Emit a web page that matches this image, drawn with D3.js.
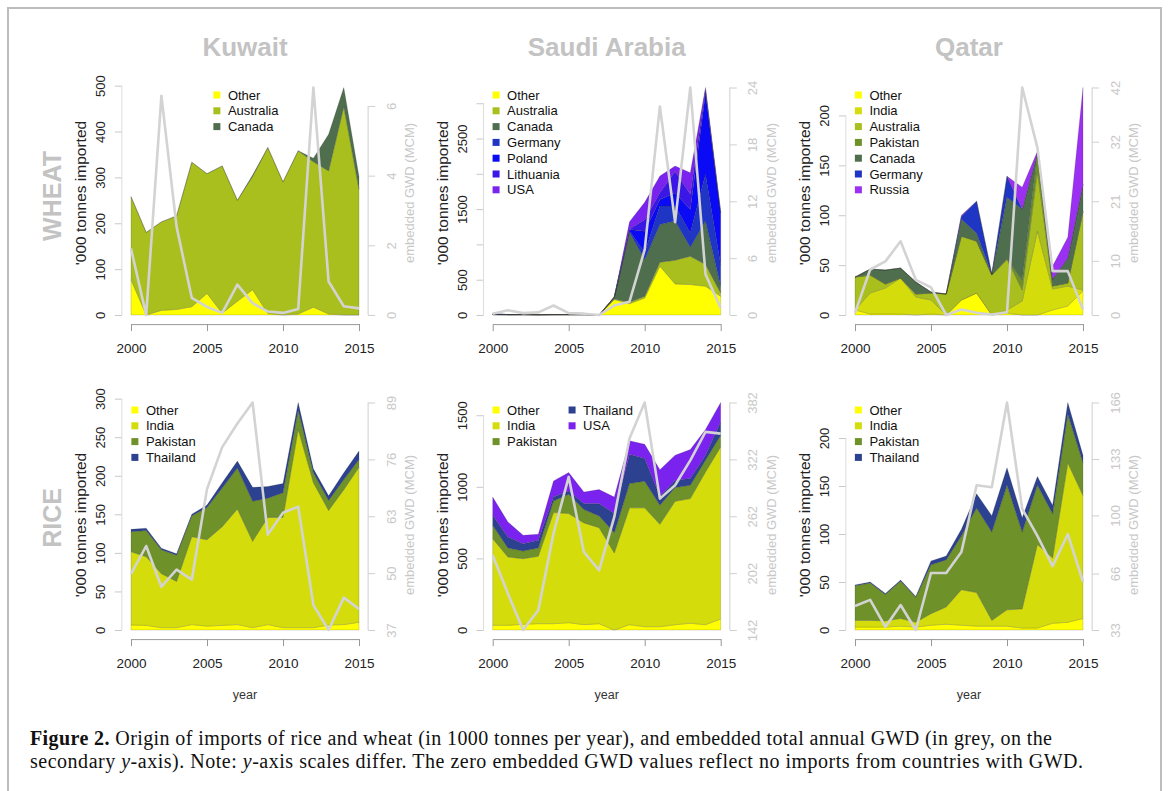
<!DOCTYPE html>
<html>
<head>
<meta charset="utf-8">
<title>Figure 2</title>
<script src="https://cdnjs.cloudflare.com/ajax/libs/d3/7.8.5/d3.min.js"></script>
<style>
  body { margin: 0; background: #fff; }
  svg text { font-family: "Liberation Sans", Arial, sans-serif; }
  svg text.caption { font-family: "Liberation Serif", "Times New Roman", serif; }
</style>
</head>
<body>
<svg id="canvas" width="1171" height="791"></svg>
<script>
// ---- data ----
var years = [2000, 2001, 2002, 2003, 2004, 2005, 2006, 2007, 2008, 2009, 2010, 2011, 2012, 2013, 2014, 2015];
var xTicks = [2000, 2005, 2010, 2015];

// Kuwait, wheat ('000 t)
var kwWheatOther     = [77, 0, 10, 12, 18, 47, 4, 30, 55, 3, 0, 2, 17, 2, 0, 0];
var kwWheatAustralia = [181, 180, 193, 204, 315, 261, 321, 220, 247, 362, 290, 356, 317, 312, 454, 274];
var kwWheatCanada    = [0, 0, 0, 0, 0, 0, 0, 0, 3, 0, 0, 0, 8, 80, 42, 28];
var kwWheatGwd       = [1.91, 0, 6.29, 2.53, 0.49, 0.23, 0.06, 0.87, 0.34, 0.1, 0.06, 0.17, 6.53, 0.96, 0.25, 0.19];

// Saudi Arabia, wheat
var saWheatOther     = [5, 3, 5, 3, 5, 5, 5, 0, 218, 160, 240, 691, 440, 431, 407, 265];
var saWheatAustralia = [0, 0, 0, 0, 0, 0, 0, 0, 10, 20, 25, 57, 336, 402, 308, 47];
var saWheatCanada    = [0, 0, 0, 0, 0, 0, 0, 0, 27, 990, 520, 535, 554, 128, 615, 95];
var saWheatGermany   = [10, 3, 0, 0, 0, 0, 0, 0, 0, 20, 100, 260, 213, 200, 660, 300];
var saWheatPoland    = [0, 0, 0, 0, 0, 0, 0, 0, 0, 20, 300, 95, 190, 335, 1150, 741];
var saWheatLithuania = [0, 0, 0, 0, 0, 0, 0, 0, 0, 10, 165, 95, 300, 213, 50, 0];
var saWheatUSA       = [0, 0, 0, 0, 0, 0, 0, 0, 0, 100, 246, 236, 78, 307, 33, 0];
var saWheatGwd       = [0.14, 0.5, 0.2, 0.28, 1.0, 0.2, 0.14, 0, 1.0, 1.4, 6.9, 22, 9.8, 24, 4.3, 0.74];

// Qatar, wheat
var qaWheatOther     = [5, 1, 1, 1, 0, 1, 0, 15, 22, 0, 2, 0, 0, 5, 9, 24];
var qaWheatIndia     = [0, 21, 26, 36, 18, 14, 0, 0, 0, 0, 3, 14, 84, 21, 20, 1];
var qaWheatAustralia = [33, 18, 4, 0, 3, 7, 21, 64, 52, 40, 51, 11, 60, 3, 3, 79];
var qaWheatPakistan  = [0, 0, 0, 0, 0, 0, 0, 0, 0, 0, 0, 10, 18, 0, 0, 0];
var qaWheatCanada    = [0, 6, 14, 10, 12, 1, 0, 17, 8, 1, 62, 71, 0, 7, 25, 27];
var qaWheatGermany   = [0, 0, 0, 0, 0, 0, 0, 3, 32, 0, 21, 0, 0, 0, 0, 0];
var qaWheatRussia    = [0, 0, 0, 0, 0, 0, 0, 1, 0, 0, 0, 22, 2, 13, 21, 97];
var qaWheatGwd       = [0.4, 8.4, 9.9, 13.6, 6.5, 5.1, 0, 1.0, 0.4, 0.1, 0.5, 42, 30.9, 8.1, 8.1, 1.0];

// Kuwait, rice
var kwRiceOther    = [6.5, 6, 3, 3, 7, 5, 6, 7, 3, 7, 3, 3, 3, 6.5, 7, 10];
var kwRiceIndia    = [95, 89, 70, 60, 114, 112, 128, 150, 112, 139, 143, 257, 188, 148.5, 175, 201];
var kwRicePakistan = [26, 34, 31, 34, 27, 42, 50, 53, 52, 25, 32, 25, 13, 13, 13, 10];
var kwRiceThailand = [3, 3, 2, 2, 2, 3, 7, 9, 18, 15, 12, 10, 5, 6, 9, 11];
var kwRiceGwd      = [49.8, 56.2, 46.9, 50.8, 48.5, 69.2, 78.8, 84.2, 89, 58.8, 63.8, 65.2, 42.7, 37, 44.4, 41.8];

// Saudi Arabia, rice
var saRiceOther    = [33, 33, 40, 44, 44, 51, 37, 44, 0, 37, 23, 23, 37, 47, 37, 77];
var saRiceIndia    = [605, 477, 458, 471, 776, 762, 711, 671, 538, 816, 830, 715, 862, 871, 1067, 1202];
var saRicePakistan = [93, 63, 54, 58, 81, 135, 93, 82, 142, 170, 186, 133, 96, 93, 82, 81];
var saRiceThailand = [70, 77, 51, 54, 28, 23, 42, 86, 133, 205, 158, 63, 51, 47, 35, 94];
var saRiceUSA      = [128, 105, 59, 42, 112, 129, 81, 98, 116, 93, 100, 186, 175, 202, 179, 135];
var saRiceGwd      = [220.8, 180.4, 142, 162.8, 243.7, 303.5, 224.3, 205, 261.3, 344, 382, 280.6, 294.7, 321, 351, 349.2];

// Qatar, rice
var qaRiceOther    = [3, 3, 3, 4, 3, 5, 6, 5, 4, 4, 4, 2, 2, 7, 8, 12];
var qaRiceIndia    = [7, 7, 6.5, 8, 5, 12, 18, 37, 35, 6, 17, 20, 87, 68, 166, 128];
var qaRicePakistan = [36, 39, 27.5, 39, 26, 51, 49, 56, 88, 92, 130, 80, 62, 46, 51, 34];
var qaRiceThailand = [1, 1, 1, 1, 1, 4, 4, 7, 15, 17, 18, 15, 9, 9, 12, 8];
var qaRiceGwd      = [47, 50.6, 34.8, 47.6, 33, 66.3, 66.3, 78.6, 117.6, 116.5, 166, 103.8, 88, 70.3, 89, 61.2];

// axis ticks
var kwWheatTicks = [0, 100, 200, 300, 400, 500];
var saWheatTicks = [0, 500, 1000, 1500, 2000, 2500, 3000];
var saWheatTickLabels = [0, 500, 1500, 2500];
var qaWheatTicks = [0, 50, 100, 150, 200];
var kwRiceTicks  = [0, 50, 100, 150, 200, 250, 300];
var saRiceTicks  = [0, 500, 1000, 1500];
var qaRiceTicks  = [0, 50, 100, 150, 200];

var kwWheatGwdTicks = [0, 2, 4, 6];
var saWheatGwdTicks = [0, 6, 12, 18, 24];
var qaWheatGwdTicks = [0, 10, 21, 32, 42];
var kwRiceGwdTicks  = [37, 50, 63, 76, 89];
var saRiceGwdTicks  = [142, 202, 262, 322, 382];
var qaRiceGwdTicks  = [33, 66, 100, 133, 166];

var countries = ["Kuwait", "Saudi Arabia", "Qatar"];
var crops = ["WHEAT", "RICE"];

var colors = {
    Other: "#ffff00",
    India: "#d4dd0b",
    Australia: "#a9bf1d",
    Pakistan: "#6f9129",
    Canada: "#4e6e4e",
    Germany: "#1f35c4",
    Poland: "#0a0af5",
    Lithuania: "#3a17e6",
    USA: "#7a22ee",
    Russia: "#9b30f2",
    Thailand: "#2c418f"
};

// ---- panel table built from the arrays ----
var panels = [
    {row: 0, col: 0, series: {Other: kwWheatOther, Australia: kwWheatAustralia, Canada: kwWheatCanada},
     gwd: kwWheatGwd, ticks: kwWheatTicks, labels: kwWheatTicks, gwdTicks: kwWheatGwdTicks, legendDx: 95, legendCols: 1},
    {row: 0, col: 1, series: {Other: saWheatOther, Australia: saWheatAustralia, Canada: saWheatCanada,
        Germany: saWheatGermany, Poland: saWheatPoland, Lithuania: saWheatLithuania, USA: saWheatUSA},
     gwd: saWheatGwd, ticks: saWheatTicks, labels: saWheatTickLabels, gwdTicks: saWheatGwdTicks, legendDx: 12.5, legendCols: 1},
    {row: 0, col: 2, series: {Other: qaWheatOther, India: qaWheatIndia, Australia: qaWheatAustralia, Pakistan: qaWheatPakistan,
        Canada: qaWheatCanada, Germany: qaWheatGermany, Russia: qaWheatRussia},
     gwd: qaWheatGwd, ticks: qaWheatTicks, labels: qaWheatTicks, gwdTicks: qaWheatGwdTicks, legendDx: 12.5, legendCols: 1},
    {row: 1, col: 0, series: {Other: kwRiceOther, India: kwRiceIndia, Pakistan: kwRicePakistan, Thailand: kwRiceThailand},
     gwd: kwRiceGwd, ticks: kwRiceTicks, labels: kwRiceTicks, gwdTicks: kwRiceGwdTicks, legendDx: 13, legendCols: 1},
    {row: 1, col: 1, series: {Other: saRiceOther, India: saRiceIndia, Pakistan: saRicePakistan, Thailand: saRiceThailand, USA: saRiceUSA},
     gwd: saRiceGwd, ticks: saRiceTicks, labels: saRiceTicks, gwdTicks: saRiceGwdTicks, legendDx: 12.5, legendCols: 2},
    {row: 1, col: 2, series: {Other: qaRiceOther, India: qaRiceIndia, Pakistan: qaRicePakistan, Thailand: qaRiceThailand},
     gwd: qaRiceGwd, ticks: qaRiceTicks, labels: qaRiceTicks, gwdTicks: qaRiceGwdTicks, legendDx: 12.5, legendCols: 1}
];

// ---- layout ----
var colX = [131, 492.7, 855];     // pixel of year 2000
var plotW = 228;                   // 2000 -> 2015
var rowY0 = [315, 630];            // pixel of zero
var rowTop = [87.5, 402.5];        // pixel of the largest stacked total
var pad = plotW * 0.04;
var axisGrey = "#999";
var lightGrey = "#cfcfcf";

var svg = d3.select("#canvas");

svg.append("rect")
    .attr("x", 8).attr("y", 8)
    .attr("width", 1153).attr("height", 800)
    .attr("fill", "none")
    .attr("stroke", "#bdbdbd")
    .attr("stroke-width", 2);

// column titles
countries.forEach(function(c, i) {
    svg.append("text")
        .attr("x", colX[i] + plotW / 2)
        .attr("y", 56)
        .attr("text-anchor", "middle")
        .attr("font-size", 26)
        .attr("font-weight", "bold")
        .attr("fill", "#c3c3c3")
        .text(c);
});

// row labels
var rowLabelY = [196, 518];
crops.forEach(function(c, i) {
    svg.append("text")
        .attr("transform", "translate(61," + rowLabelY[i] + ") rotate(-90)")
        .attr("text-anchor", "middle")
        .attr("font-size", 25)
        .attr("font-weight", "bold")
        .attr("fill", "#c3c3c3")
        .text(c);
});

var titleY = [193, 525];

panels.forEach(function(p) {
    var keys = Object.keys(p.series);
    var rows = years.map(function(yr, i) {
        var r = {year: yr};
        keys.forEach(function(k) { r[k] = p.series[k][i]; });
        return r;
    });
    var stacked = d3.stack().keys(keys)(rows);
    var maxTotal = d3.max(stacked[stacked.length - 1], function(d) { return d[1]; });

    var x = d3.scaleLinear().domain([2000, 2015]).range([colX[p.col], colX[p.col] + plotW]);
    var y = d3.scaleLinear().domain([0, maxTotal]).range([rowY0[p.row], rowTop[p.row]]);
    var yr = d3.scaleLinear().domain(d3.extent(p.gwd)).range([rowY0[p.row], rowTop[p.row]]);

    var g = svg.append("g");

    var area = d3.area()
        .x(function(d) { return x(d.data.year); })
        .y0(function(d) { return y(d[0]); })
        .y1(function(d) { return y(d[1]); });

    g.selectAll("path.layer")
        .data(stacked)
        .enter().append("path")
        .attr("class", "layer")
        .attr("d", area)
        .attr("fill", function(d) { return colors[d.key]; })
        .attr("stroke", "rgba(40,40,40,0.35)")
        .attr("stroke-width", 0.5);

    // embedded GWD line
    var line = d3.line()
        .x(function(d, i) { return x(years[i]); })
        .y(function(d) { return yr(d); });
    g.append("path")
        .attr("d", line(p.gwd))
        .attr("fill", "none")
        .attr("stroke", "#d3d3d3")
        .attr("stroke-width", 2.6)
        .attr("stroke-linejoin", "round");

    var left = x.range()[0] - pad, right = x.range()[1] + pad;
    var bottom = rowY0[p.row] + (rowY0[p.row] - rowTop[p.row]) * 0.04;

    // x axis
    var xAxis = g.append("g")
        .attr("transform", "translate(0," + bottom + ")")
        .call(d3.axisBottom(x).tickValues(xTicks).tickSize(7).tickSizeOuter(0).tickPadding(12).tickFormat(d3.format("d")));
    xAxis.select(".domain").attr("stroke", axisGrey);
    xAxis.selectAll(".tick line").attr("stroke", axisGrey);
    xAxis.selectAll(".tick text")
        .attr("font-size", 13.5)
        .attr("font-family", "Liberation Sans, Arial, sans-serif")
        .attr("fill", "#222");

    // left axis
    var yAxis = g.append("g")
        .attr("transform", "translate(" + left + ",0)")
        .call(d3.axisLeft(y).tickValues(p.ticks).tickSize(7)
            .tickFormat(function(d) { return p.labels.indexOf(d) >= 0 ? d : ""; }));
    yAxis.select(".domain").remove();
    yAxis.append("line")
        .attr("y1", y(p.ticks[0])).attr("y2", y(p.ticks[p.ticks.length - 1]))
        .attr("stroke", "#dcdcdc");
    yAxis.selectAll(".tick line").attr("stroke", "#c8c8c8");
    yAxis.selectAll(".tick text")
        .attr("transform", "rotate(-90)")
        .attr("x", 0).attr("y", -17).attr("dy", null)
        .attr("text-anchor", "middle")
        .attr("font-size", 13)
        .attr("font-family", "Liberation Sans, Arial, sans-serif")
        .attr("fill", "#222");
    yAxis.append("text")
        .attr("transform", "translate(-36," + titleY[p.row] + ") rotate(-90)")
        .attr("text-anchor", "middle")
        .attr("font-size", 15.5)
        .attr("fill", "#222")
        .text("'000 tonnes imported");

    // right axis (embedded GWD)
    var rAxis = g.append("g")
        .attr("transform", "translate(" + right + ",0)")
        .call(d3.axisRight(yr).tickValues(p.gwdTicks).tickSize(7).tickFormat(d3.format("d")));
    rAxis.select(".domain").remove();
    rAxis.append("line")
        .attr("y1", yr(p.gwdTicks[0])).attr("y2", yr(p.gwdTicks[p.gwdTicks.length - 1]))
        .attr("stroke", lightGrey);
    rAxis.selectAll(".tick line").attr("stroke", lightGrey);
    rAxis.selectAll(".tick text")
        .attr("transform", "rotate(-90)")
        .attr("x", 0).attr("y", 27.5).attr("dy", null)
        .attr("text-anchor", "middle")
        .attr("font-size", 13)
        .attr("font-family", "Liberation Sans, Arial, sans-serif")
        .attr("fill", "#c8c8c8");
    rAxis.append("text")
        .attr("transform", "translate(46," + titleY[p.row] + ") rotate(-90)")
        .attr("text-anchor", "middle")
        .attr("font-size", 13)
        .attr("fill", "#c8c8c8")
        .text("embedded GWD (MCM)");

    // "year" label on the bottom row
    if (p.row === 1) {
        g.append("text")
            .attr("x", x(2007.5))
            .attr("y", 699)
            .attr("text-anchor", "middle")
            .attr("font-size", 12.5)
            .attr("fill", "#333")
            .text("year");
    }

    // legend
    var perCol = p.legendCols === 2 ? 3 : keys.length;
    var leg = g.append("g")
        .attr("transform", "translate(" + (left + p.legendDx) + "," + (rowTop[p.row] + 7.5) + ")");
    keys.forEach(function(k, i) {
        var cx = Math.floor(i / perCol) * 76;
        var cy = (i % perCol) * 15.8;
        leg.append("rect")
            .attr("x", cx - 3.5).attr("y", cy - 3.5)
            .attr("width", 7).attr("height", 7)
            .attr("fill", colors[k]);
        leg.append("text")
            .attr("x", cx + 11).attr("y", cy + 4.5)
            .attr("font-size", 13)
            .attr("fill", "#111")
            .text(k);
    });
});

// caption, two lines stretched to the width they have in the figure
var l1 = svg.append("text").attr("class", "caption")
    .attr("x", 30).attr("y", 745)
    .attr("font-size", 20).attr("fill", "#111")
    .attr("textLength", 1022).attr("lengthAdjust", "spacing");
l1.append("tspan").attr("font-weight", "bold").text("Figure 2.");
l1.append("tspan").text(" Origin of imports of rice and wheat (in 1000 tonnes per year), and embedded total annual GWD (in grey, on the");

var l2 = svg.append("text").attr("class", "caption")
    .attr("x", 30).attr("y", 768)
    .attr("font-size", 20).attr("fill", "#111")
    .attr("textLength", 1053).attr("lengthAdjust", "spacing");
l2.append("tspan").text("secondary ");
l2.append("tspan").attr("font-style", "italic").text("y");
l2.append("tspan").text("-axis). Note: ");
l2.append("tspan").attr("font-style", "italic").text("y");
l2.append("tspan").text("-axis scales differ. The zero embedded GWD values reflect no imports from countries with GWD.");
</script>
</body>
</html>
